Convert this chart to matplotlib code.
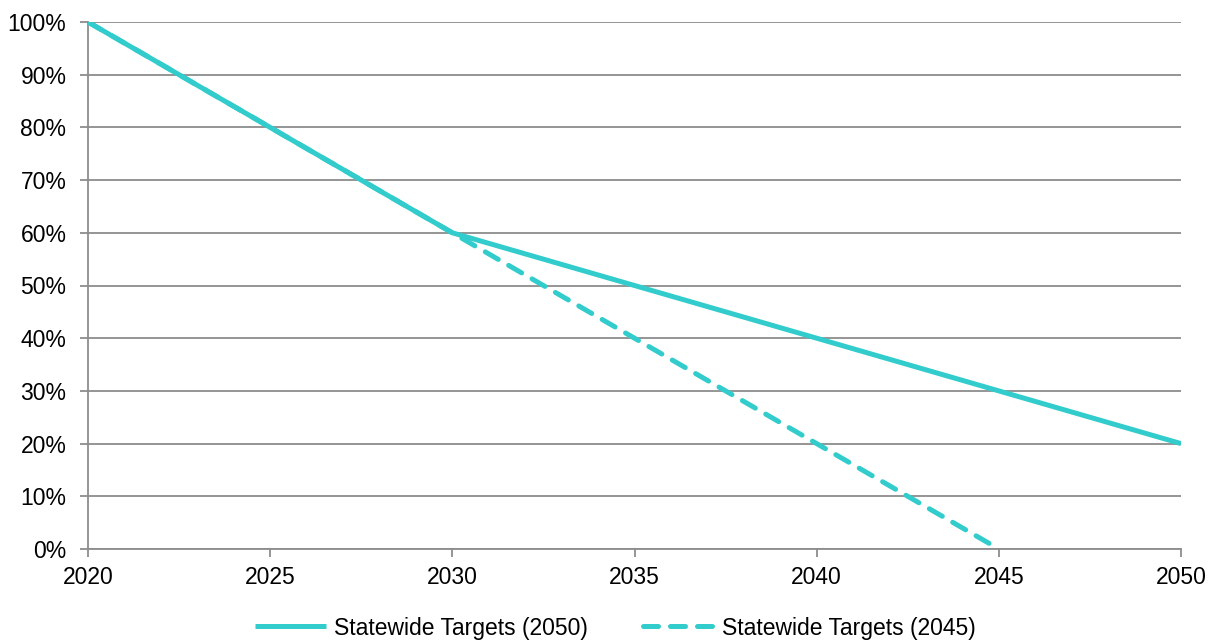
import matplotlib
matplotlib.use("Agg")
import matplotlib.pyplot as plt
from matplotlib.ticker import FuncFormatter

plt.rcParams['font.family'] = ['Liberation Sans', 'DejaVu Sans']

years = [2020, 2025, 2030, 2035, 2040, 2045, 2050]
targets_2050 = [100, 80, 60, 50, 40, 30, 20]
years_2045 = [2020, 2025, 2030, 2035, 2040, 2045]
targets_2045 = [100, 80, 60, 40, 20, 0]
y_ticks = list(range(0, 101, 10))

teal = '#33CCCC'
grid_gray = '#8c8c8c'
W, H = 1209, 641

fig = plt.figure(figsize=(W / 100, H / 100), dpi=100)
ax = fig.add_axes([88 / W, 1 - 549 / H, (1181 - 88) / W, (549 - 22) / H])

ax.plot(years, targets_2050, color=teal, lw=3.6, solid_capstyle='butt',
        solid_joinstyle='miter', label='Statewide Targets (2050)', zorder=3)
ax.plot(years_2045, targets_2045, color=teal, lw=3.6, linestyle=(0, (3, 2.4)),
        dash_capstyle='round', label='Statewide Targets (2045)', zorder=3)

ax.set_xlim(2020, 2050)
ax.set_ylim(0, 100)
ax.set_xticks(years)
ax.set_yticks(y_ticks)
ax.yaxis.set_major_formatter(FuncFormatter(lambda v, p: f'{int(v)}%'))

ax.grid(axis='y', color=grid_gray, lw=1.3)
ax.set_axisbelow(True)
for side in ('top', 'right'):
    ax.spines[side].set_visible(False)
for side in ('left', 'bottom'):
    ax.spines[side].set_color(grid_gray)
    ax.spines[side].set_linewidth(1.3)
ax.tick_params(axis='both', colors=grid_gray, labelcolor='black', labelsize=16.5,
               length=5.5, width=1.3, direction='out')
ax.tick_params(axis='y', pad=10)
ax.tick_params(axis='x', pad=7)

leg = fig.legend(loc='center', bbox_to_anchor=(615 / W, 1 - 628 / H), ncol=2,
                 frameon=False, fontsize=16.5, handlelength=3.1, columnspacing=2.4,
                 handletextpad=0.35, borderpad=0, borderaxespad=0)

fig.savefig('out.png', dpi=100)
